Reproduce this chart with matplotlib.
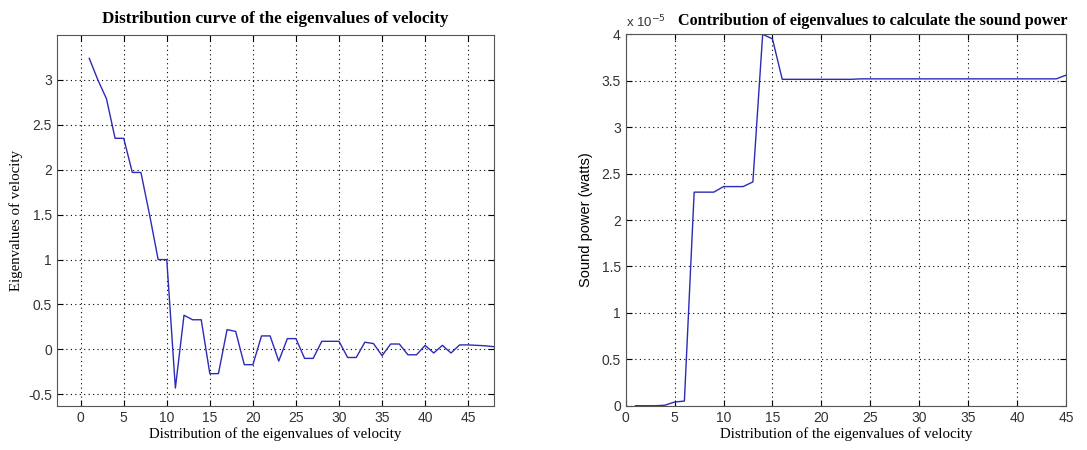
import matplotlib
matplotlib.use("Agg")
import matplotlib.pyplot as plt

# eigenvalues of velocity, index 1..48
eig_idx = list(range(1, 49))
eig_vals = [3.24, 3.00, 2.79, 2.35, 2.35, 1.97, 1.97, 1.50, 1.00, 1.00,
            -0.43, 0.38, 0.33, 0.33, -0.27, -0.27, 0.22, 0.20, -0.17, -0.17,
            0.15, 0.15, -0.13, 0.12, 0.12, -0.10, -0.10, 0.09, 0.09, 0.09,
            -0.09, -0.09, 0.08, 0.065, -0.07, 0.06, 0.06, -0.06, -0.06, 0.045,
            -0.04, 0.045, -0.04, 0.05, 0.05, 0.045, 0.04, 0.03]

# sound power contribution (x 1e-5 watts), index 1..45
pw_idx = list(range(1, 46))
pw_vals = [0.0, 0.0, 0.0, 0.005, 0.04, 0.05, 2.30, 2.30, 2.30, 2.36,
           2.36, 2.36, 2.41, 4.00, 3.95, 3.515, 3.515, 3.515, 3.515, 3.515,
           3.515, 3.515, 3.515, 3.52, 3.52, 3.52, 3.52, 3.52, 3.52, 3.52,
           3.52, 3.52, 3.52, 3.52, 3.52, 3.52, 3.52, 3.52, 3.52, 3.52,
           3.52, 3.52, 3.52, 3.52, 3.56]

eig_yticks = [-0.5, 0, 0.5, 1, 1.5, 2, 2.5, 3]
pw_yticks = [0, 0.5, 1, 1.5, 2, 2.5, 3, 3.5, 4]

line_col = '#2b2bb8'
serif = 'Liberation Serif'
sans = 'Liberation Sans'

fig = plt.figure(figsize=(10.87, 4.5), dpi=100)
ax1 = fig.add_axes([0.0524, 0.0978, 0.4021, 0.8244])
ax2 = fig.add_axes([0.5756, 0.0984, 0.4051, 0.8254])


def style(ax):
    ax.grid(True, linestyle=(0, (1, 3)), color='black', linewidth=0.8)
    ax.tick_params(direction='in', top=True, right=True, length=4,
                   labelsize=10, labelcolor='#333333', width=0.8)
    for lab in ax.get_xticklabels() + ax.get_yticklabels():
        lab.set_fontfamily(sans)
    for s in ax.spines.values():
        s.set_linewidth(0.8)
        s.set_color('#555555')


def fmt(v):
    return ('%g' % v)


ax1.plot(eig_idx, eig_vals, color=line_col, linewidth=1.0)
ax1.set_xlim(-2.75, 48)
ax1.set_ylim(-0.63, 3.5)
ax1.set_xticks(range(0, 46, 5))
ax1.set_yticks(eig_yticks)
ax1.set_yticklabels([fmt(v) for v in eig_yticks])
style(ax1)
ax1.set_title('Distribution curve of the eigenvalues of velocity',
              fontfamily=serif, fontweight='bold', fontsize=12.3, pad=9)
ax1.set_xlabel('Distribution of the eigenvalues of velocity',
               fontfamily=serif, fontsize=10.7, labelpad=2)
ax1.set_ylabel('Eigenvalues of velocity', fontfamily=serif, fontsize=10.7,
               labelpad=4)

ax2.plot(pw_idx, pw_vals, color=line_col, linewidth=1.0)
ax2.set_xlim(0, 45)
ax2.set_ylim(0, 4)
ax2.set_xticks(range(0, 46, 5))
ax2.set_yticks(pw_yticks)
ax2.set_yticklabels([fmt(v) for v in pw_yticks])
style(ax2)
ax2.text(0.0, 1.012, r'x 10$^{-5}$', transform=ax2.transAxes,
         fontfamily=sans, fontsize=9.5, color='#333333',
         ha='left', va='bottom')
ax2.text(0.562, 1.014, 'Contribution of eigenvalues to calculate the sound power',
         transform=ax2.transAxes, fontfamily=serif, fontweight='bold',
         fontsize=11.6, ha='center', va='bottom')
ax2.set_xlabel('Distribution of the eigenvalues of velocity',
               fontfamily=serif, fontsize=10.7, labelpad=2)
ax2.set_ylabel('Sound power (watts)', fontfamily=sans, fontsize=10.5,
               labelpad=6)

fig.savefig('out.png', dpi=100)
